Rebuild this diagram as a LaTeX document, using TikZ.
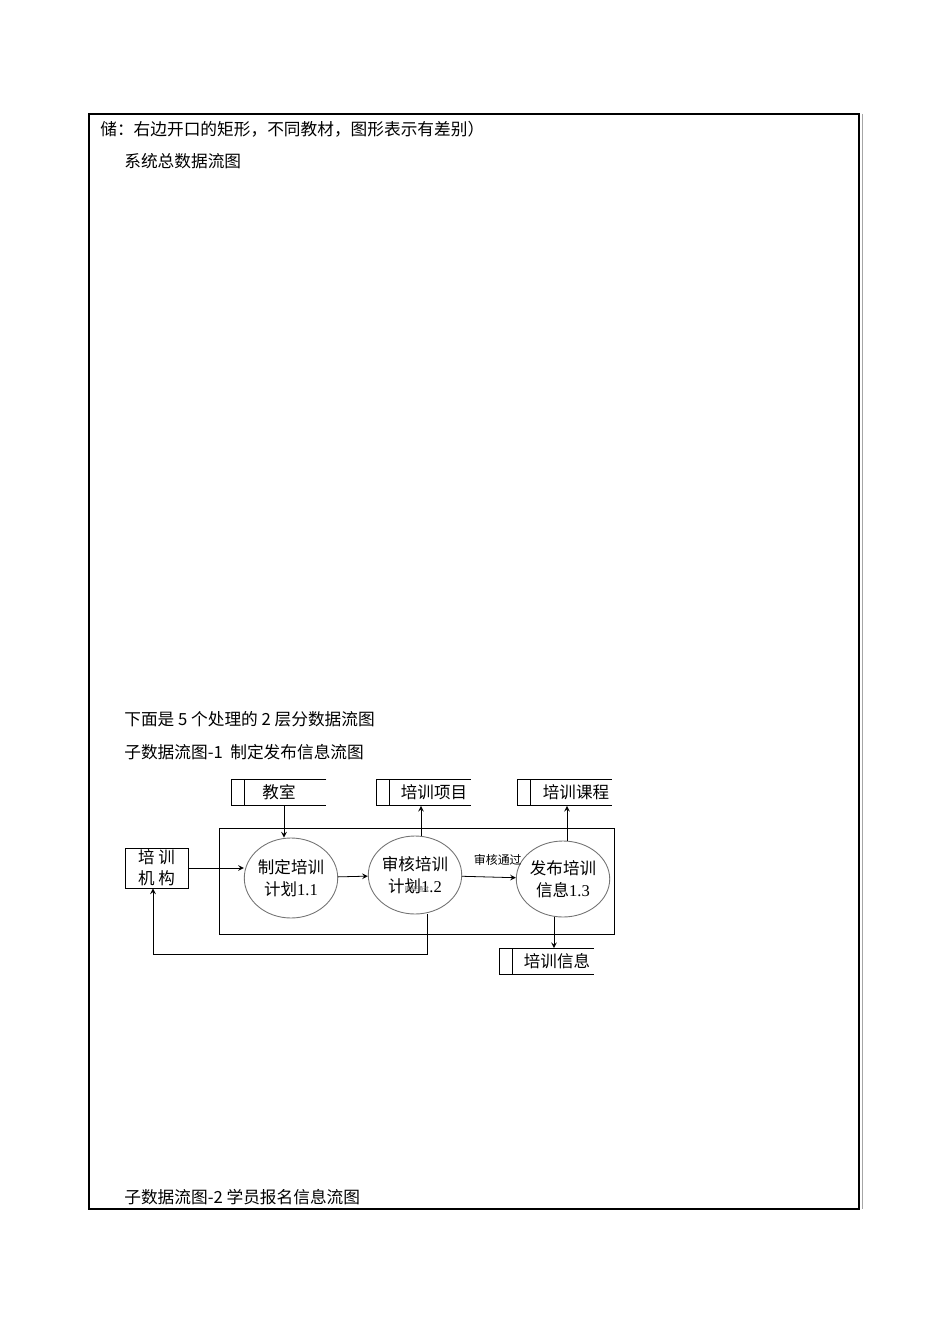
\documentclass[tikz,border=0pt]{standalone}
\usepackage{fontspec}
\newfontfamily\cjk{Noto Sans CJK SC}
\newfontfamily\tms{Liberation Serif}
\usetikzlibrary{shapes.geometric}

\begin{document}
\begin{tikzpicture}[
                x = 0.02cm, y = -0.02cm,
                > = stealth,
                line/.style={ draw = black, line width = 0.5pt },
                flow/.style={ ->, line width = 0.45pt },
                proc/.style={ ellipse, draw = black!55, line width = 0.5pt, minimum width = 1.7cm, minimum height = 1.6cm, inner sep = 0, align = center, font = \cjk\fontsize{9.4}{12.5}\selectfont },
                store/.style={ rectangle, minimum width = 1.88cm, minimum height = 0.52cm, inner sep = 0, font = \cjk\fontsize{9.4}{11}\selectfont },
                entity/.style={ rectangle, draw = black, line width = 0.5pt, minimum width = 1.26cm, minimum height = 0.8cm, inner sep = 0, align = center, font = \cjk\fontsize{9.4}{12}\selectfont },
                body/.style={ anchor = west, inner sep = 0, font = \cjk\fontsize{9.5}{11}\selectfont }
            ]
            \useasboundingbox (0, 0) rectangle (950, 1344);

            % page frame
            \draw [line width = 1.1pt] (89, 114) rectangle (859, 1209);
            \draw [black!35, line width = 0.5pt] (862, 114) -- (862, 1209);

            \node (t1) [body] at (100, 129)  {储：右边开口的矩形，不同教材，图形表示有差别）};
            \node (t2) [body] at (124, 161)  {系统总数据流图};
            \node (t3) [body] at (124, 719)  {下面是 5 个处理的 2 层分数据流图};
            \node (t4) [body] at (124, 752)  {子数据流图-1\ \ 制定发布信息流图};
            \node (t5) [body] at (124, 1197) {子数据流图-2 学员报名信息流图};

            % sub diagram 1
            \draw [line] (219, 828) rectangle (614, 934);

            \node (jg)  [entity] at (156.5, 868) {培\ 训\\机\ 构};
            \node (p11) [proc]   at (291, 878)   {制定培训\\计划{\tms 1.1}};
            \node (p12) [proc, minimum height = 1.56cm] at (415, 875) {审核培训\\计划{\tms 1.2}};
            \node (p13) [proc, minimum height = 1.52cm] at (563, 879) {发布培训\\信息{\tms 1.3}};

            \node (kj) [store] at (279, 792.5)   {教室\hspace{0.24cm}};
            \node (xm) [store] at (423.5, 792.5) {\hspace{0.42cm}培训项目};
            \node (kc) [store] at (564.5, 792.5) {\hspace{0.46cm}培训课程};
            \node (xx) [store] at (546.5, 961.5) {\hspace{0.42cm}培训信息};

            \foreach \s in {kj, xm, kc, xx}
                \draw [line] (\s.north east) -- (\s.north west) -- (\s.south west) -- (\s.south east)
                    ([xshift = 0.26cm]\s.north west) -- ([xshift = 0.26cm]\s.south west);

            \node (tiny) [font = \cjk\fontsize{3.5}{4}\selectfont, text = black!60] at (417, 889) {审核通过};

            \draw [flow] (jg.east) -- (jg.east -| p11.west);
            \draw [flow] ([xshift = 0.1cm]kj.south) -- ([xshift = 0.1cm]kj.south |- p11.north);
            \draw [flow] (p11) -- (p12);
            \draw [flow] (p12) -- node[above, yshift = 3pt, xshift = 5pt, font = \cjk\fontsize{6.8}{8}\selectfont]{审核通过} (p13);
            \draw [flow] ([xshift = -0.05cm]xm.south |- p12.north) -- ([xshift = -0.05cm]xm.south);
            \draw [flow] ([xshift = 0.05cm]kc.south |- p13.north) -- ([xshift = 0.05cm]kc.south);
            \draw [flow] ([xshift = -0.18cm]p13.south) -- ([xshift = -0.18cm]p13.south |- xx.north);

            \coordinate (fb) at (427, 954);
            \draw [flow] (fb |- p12.south) -- (fb) -| ([xshift = -0.07cm]jg.south);
        \end{tikzpicture}
\end{document}
